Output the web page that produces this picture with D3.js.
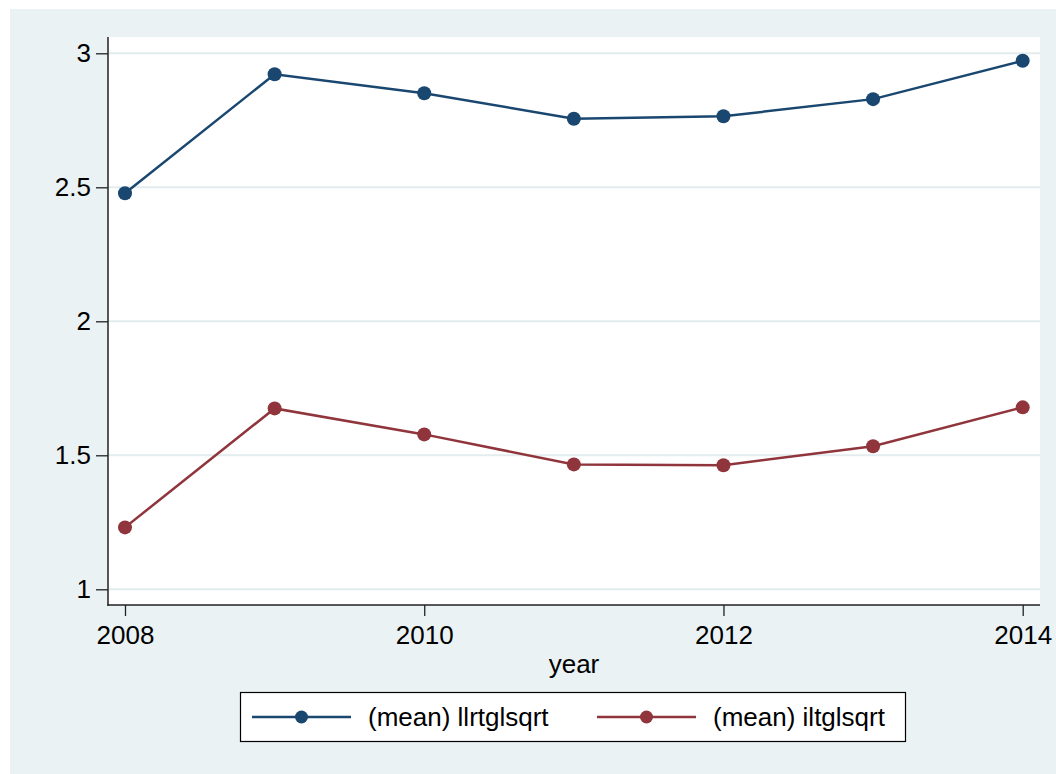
<!DOCTYPE html>
<html>
<head>
  <meta charset="utf-8">
  <script src="https://cdn.jsdelivr.net/npm/d3@7/dist/d3.min.js"></script>
  <style>
    body { margin: 0; background: #fff; }
    text { font-family: "Liberation Sans", Arial, sans-serif; fill: #000; }
  </style>
</head>
<body>
  <svg width="1056" height="774"></svg>
  <script>
    // data
    const years = [2008, 2009, 2010, 2011, 2012, 2013, 2014];
    const llrtglsqrt = [2.478, 2.922, 2.851, 2.756, 2.765, 2.829, 2.972];
    const iltglsqrt = [1.231, 1.675, 1.578, 1.466, 1.463, 1.534, 1.679];
    const yTicks = [1, 1.5, 2, 2.5, 3];
    const xTicks = [2008, 2010, 2012, 2014];
    const seriesNames = ['(mean) llrtglsqrt', '(mean) iltglsqrt'];
    const colors = ['#1a476f', '#90353b'];

    const svg = d3.select('svg');
    const plot = { left: 108, right: 1040, top: 37, bottom: 605 };

    // outer graph region
    svg.append('rect')
      .attr('x', 10).attr('y', 9)
      .attr('width', 1046).attr('height', 765)
      .attr('fill', '#eaf2f3');

    svg.append('rect')
      .attr('x', plot.left).attr('y', plot.top)
      .attr('width', plot.right - plot.left).attr('height', plot.bottom - plot.top)
      .attr('fill', '#fff');

    const x = d3.scaleLinear().domain([2008, 2014]).range([125, 1022.7]);
    const y = d3.scaleLinear().domain([1, 3]).range([589.3, 53.3]);

    // gridlines
    svg.append('g')
      .selectAll('line')
      .data(yTicks)
      .enter()
      .append('line')
      .attr('x1', plot.left).attr('x2', plot.right)
      .attr('y1', d => y(d)).attr('y2', d => y(d))
      .attr('stroke', '#e3edef')
      .attr('stroke-width', 2);

    // y axis
    const yAxis = svg.append('g')
      .attr('transform', `translate(${plot.left},0)`)
      .call(d3.axisLeft(y).tickValues(yTicks).tickSize(12).tickPadding(5).tickFormat(d3.format('')));
    yAxis.select('.domain').remove();
    yAxis.append('line')
      .attr('y1', plot.top).attr('y2', plot.bottom + 0.7)
      .attr('stroke', '#222').attr('stroke-width', 1.5);

    // x axis
    const xAxis = svg.append('g')
      .attr('transform', `translate(0,${plot.bottom})`)
      .call(d3.axisBottom(x).tickValues(xTicks).tickSize(11).tickPadding(10).tickFormat(d3.format('d')));
    xAxis.select('.domain').remove();
    xAxis.append('line')
      .attr('x1', plot.left - 0.7).attr('x2', plot.right)
      .attr('stroke', '#222').attr('stroke-width', 1.5);

    svg.selectAll('.tick line').attr('stroke', '#222').attr('stroke-width', 1.3);
    svg.selectAll('.tick text')
      .style('font-family', '"Liberation Sans", Arial, sans-serif')
      .style('font-size', '26px')
      .attr('fill', '#000');

    svg.append('text')
      .attr('x', (plot.left + plot.right) / 2)
      .attr('y', 673)
      .attr('text-anchor', 'middle')
      .style('font-size', '26px')
      .text('year');

    // lines and markers
    const line = d3.line().x(d => x(d[0])).y(d => y(d[1]));
    [llrtglsqrt, iltglsqrt].forEach((vals, i) => {
      const pts = years.map((yr, j) => [yr, vals[j]]);
      svg.append('path')
        .datum(pts)
        .attr('d', line)
        .attr('fill', 'none')
        .attr('stroke', colors[i])
        .attr('stroke-width', 2.5);
      svg.append('g')
        .selectAll('circle')
        .data(pts)
        .enter()
        .append('circle')
        .attr('cx', d => x(d[0]))
        .attr('cy', d => y(d[1]))
        .attr('r', 7)
        .attr('fill', colors[i]);
    });

    // legend
    const legend = svg.append('g');
    legend.append('rect')
      .attr('x', 240.5).attr('y', 692.5)
      .attr('width', 665).attr('height', 49)
      .attr('fill', '#fff')
      .attr('stroke', '#000')
      .attr('stroke-width', 1.2);
    const legendX = [252, 597];
    seriesNames.forEach((name, i) => {
      const g = legend.append('g').attr('transform', `translate(${legendX[i]},717)`);
      g.append('line')
        .attr('x1', 0).attr('x2', 99)
        .attr('stroke', colors[i]).attr('stroke-width', 2.5);
      g.append('circle')
        .attr('cx', 49.5).attr('r', 6.5)
        .attr('fill', colors[i]);
      g.append('text')
        .attr('x', 116)
        .attr('dy', '0.35em')
        .style('font-size', '26px')
        .text(name);
    });
  </script>
</body>
</html>
